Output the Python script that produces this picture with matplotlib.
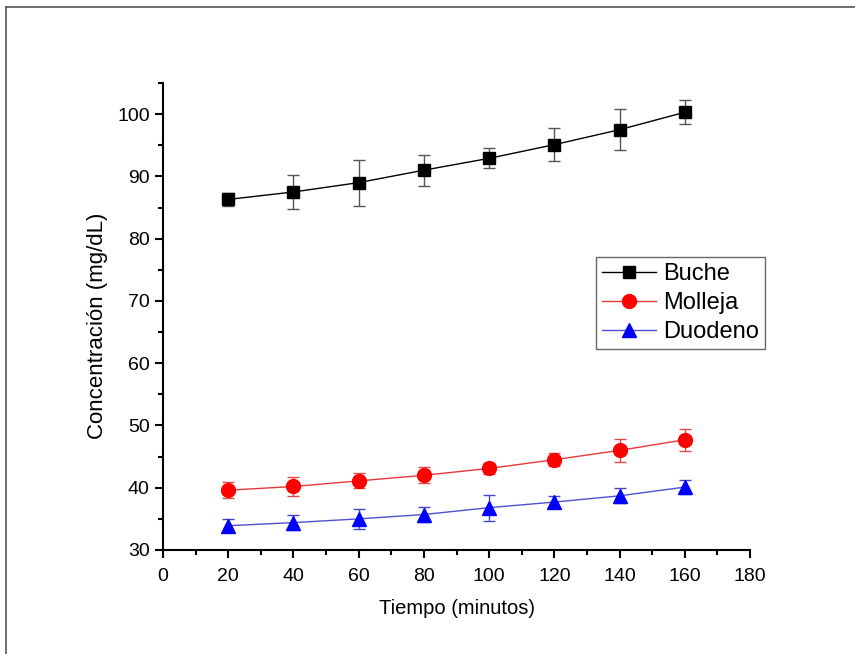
import matplotlib.pyplot as plt
from matplotlib.lines import Line2D
import numpy as np

plt.rcParams['font.family'] = ['Liberation Sans', 'DejaVu Sans']

tiempo = [20, 40, 60, 80, 100, 120, 140, 160]

buche = [86.3, 87.5, 89.0, 91.0, 92.9, 95.1, 97.5, 100.3]
buche_err = [1.1, 2.7, 3.7, 2.5, 1.6, 2.6, 3.3, 1.9]

molleja = [39.6, 40.2, 41.1, 42.0, 43.1, 44.5, 46.0, 47.7]
molleja_err = [1.3, 1.6, 1.2, 1.3, 0.85, 1.0, 1.9, 1.75]

duodeno = [33.9, 34.4, 35.0, 35.7, 36.8, 37.7, 38.7, 40.1]
duodeno_err = [1.0, 1.2, 1.6, 1.2, 2.1, 1.0, 1.2, 1.1]

fig = plt.figure(figsize=(8.55, 6.54), dpi=100)
ax = fig.add_axes([163/855, 1 - 550/654, 587/855, 467/654])

# page frame (only left and top edges are visible)
fig.add_artist(Line2D([6/855, 6/855], [0, 1 - 7/654], color='#555555', lw=1.2))
fig.add_artist(Line2D([6/855, 1], [1 - 7/654, 1 - 7/654], color='#555555', lw=1.2))

series = [
    ('Buche', buche, buche_err, 'black', '#555555', 's', 9),
    ('Molleja', molleja, molleja_err, '#e8383d', '#e04a4a', 'o', 10),
    ('Duodeno', duodeno, duodeno_err, '#5050d0', '#4444cc', '^', 10),
]
mcolors = {'Buche': 'black', 'Molleja': 'red', 'Duodeno': 'blue'}
for name, vals, err, lc, ec, mk, ms in series:
    ax.errorbar(tiempo, vals, yerr=err, fmt='none', ecolor=ec, elinewidth=1.0,
                capsize=4, capthick=1.0, zorder=2)
    ax.plot(tiempo, vals, '-', color=lc, lw=1.0, marker=mk, markersize=ms,
            markerfacecolor=mcolors[name], markeredgecolor=mcolors[name],
            label=name, zorder=3)

ax.set_xlim(0, 180)
ax.set_ylim(30, 105)
ax.set_xticks(np.arange(0, 181, 20))
ax.set_xticks(np.arange(0, 181, 10), minor=True)
ax.set_yticks(np.arange(30, 101, 10))
ax.set_yticks(np.arange(30, 106, 5), minor=True)

for s in ['top', 'right']:
    ax.spines[s].set_visible(False)
for s in ['left', 'bottom']:
    ax.spines[s].set_linewidth(1.5)
ax.tick_params(which='major', direction='out', length=6, width=1.5, labelsize=14)
ax.tick_params(axis='x', which='major', pad=7)
ax.tick_params(which='minor', direction='out', length=3.5, width=1.5)

ax.set_xlabel('Tiempo (minutos)', fontsize=14.5, labelpad=10)
ax.set_ylabel('Concentración (mg/dL)', fontsize=16)
ax.yaxis.set_label_coords(-55/587, (550 - 326)/467)

leg = ax.legend(loc='upper left', bbox_to_anchor=(433/587, 1 - (257-83)/467),
                fontsize=17, frameon=True, fancybox=False, edgecolor='#444444',
                handlelength=2.3, borderpad=0.25, labelspacing=0.3,
                handletextpad=0.3, borderaxespad=0)
leg.get_frame().set_linewidth(1.0)

fig.savefig('out.png', dpi=100)
